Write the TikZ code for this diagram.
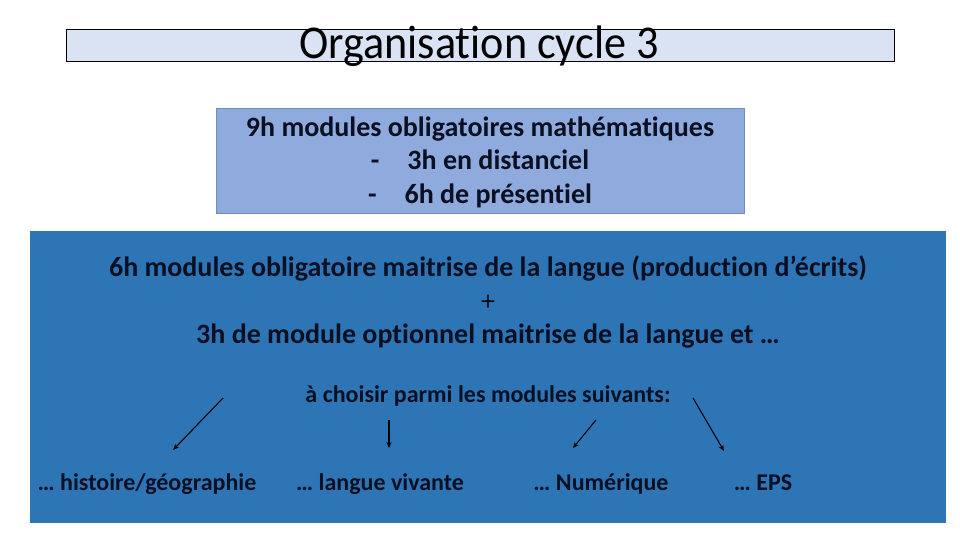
\documentclass[tikz,border=0pt]{standalone}
\usepackage{fontspec}
\setmainfont{Carlito}[Ligatures=NoCommon]
\definecolor{titlefill}{HTML}{DAE3F3}
\definecolor{mathfill}{HTML}{8FAADC}
\definecolor{mathline}{HTML}{6D8CC2}
\definecolor{langfill}{HTML}{2E75B6}
\definecolor{inktext}{HTML}{0A0F22}
\tikzset{
	bigtext/.style={font=\bfseries\fontsize{28}{33.5}\selectfont, text=inktext, align=center, inner sep=0pt},
	choixtext/.style={font=\bfseries\fontsize{24}{26}\selectfont, text=inktext, inner sep=0pt},
	choix/.style={-{Stealth[length=6pt,width=5pt]}, line width=1.1pt, black}
}
\usetikzlibrary{arrows.meta}
\begin{document}
\begin{tikzpicture}[x=1pt, y=-1pt]
			\useasboundingbox (0,0) rectangle (960,540);
			%title
			\draw[fill=titlefill, thin] (66,29) rectangle (894,61);
			\node (titre) at (479,46) [inner sep=0pt, xscale=0.94]{\fontsize{47}{48}\selectfont Organisation cycle 3};
			
			%maths
			\draw[fill=mathfill, draw=mathline] (216,108) rectangle (744,213);
			\node (maths) at (480,162) [bigtext]{9h modules obligatoires mathématiques\\
				-\quad 3h en distanciel\\
				-\quad 6h de présentiel};
			
			%langue
			\fill[langfill] (30,231) rectangle (946,523);
			\node (langue) at (488,302) [bigtext]{6h modules obligatoire maitrise de la langue (production d’écrits)\\
				{\mdseries +}\\
				3h de module optionnel maitrise de la langue et …};
			\node (choisir) at (488,396) [choixtext]{à choisir parmi les modules suivants:};
			
			\node (histgeo) at (147,490) [choixtext, anchor=base]{… histoire/géographie};
			\node (lv) at (380,490) [choixtext, anchor=base]{… langue vivante};
			\node (num) at (601,490) [choixtext, anchor=base]{… Numérique};
			\node (eps) at (763,490) [choixtext, anchor=base]{… EPS};
			
			\coordinate (a1) at (223,398); \coordinate (b1) at (173,450);
			\coordinate (a2) at (389,420); \coordinate (b2) at (389,448);
			\coordinate (a3) at (596,420); \coordinate (b3) at (573,448);
			\coordinate (a4) at (693,398); \coordinate (b4) at (724,451);
			\foreach \i in {1,2,3,4}{
				\draw[choix] (a\i)--(b\i);
			}
		\end{tikzpicture}
\end{document}
